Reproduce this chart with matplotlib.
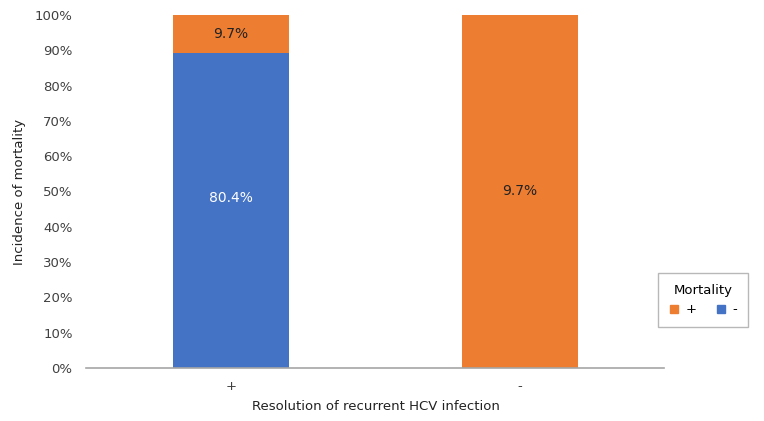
import numpy as np
import matplotlib.pyplot as plt
from matplotlib.lines import Line2D

categories = ['+', '-']
mort_neg = [80.4, 0.0]   # blue, mortality -
mort_pos = [9.7, 9.7]    # orange, mortality +
yticks = [0, 10, 20, 30, 40, 50, 60, 70, 80, 90, 100]

blue = '#4472C4'
orange = '#ED7D31'

# 100% stacked
tot = np.array(mort_neg) + np.array(mort_pos)
neg_pct = np.array(mort_neg) / tot * 100
pos_pct = np.array(mort_pos) / tot * 100

fig = plt.figure(figsize=(7.64, 4.21), dpi=100)
ax = fig.add_axes([0.1132, 0.1259, 0.7565, 0.8385])
x = np.arange(len(categories))

b1 = ax.bar(x, neg_pct, width=0.4, color=blue)
b2 = ax.bar(x, pos_pct, width=0.4, bottom=neg_pct, color=orange)

for i in range(len(categories)):
    if mort_neg[i] > 0:
        ax.text(x[i], neg_pct[i] / 2 + 3.5, f'{mort_neg[i]:.1f}%', ha='center', va='center',
                color='white', fontsize=10)
    ax.text(x[i], neg_pct[i] + pos_pct[i] / 2, f'{mort_pos[i]:.1f}%', ha='center', va='center',
            color='#222222', fontsize=10)

ax.set_xlim(-0.5, 1.5)
ax.set_ylim(0, 100)
ax.set_yticks(yticks)
ax.set_yticklabels([f'{t}%' for t in yticks])
ax.set_xticks(x)
ax.set_xticklabels(categories)
ax.tick_params(axis='both', length=0, labelsize=9.5, colors='#404040')
ax.tick_params(axis='y', pad=10)
ax.tick_params(axis='x', pad=9)
for s in ['top', 'right', 'left']:
    ax.spines[s].set_visible(False)
ax.spines['bottom'].set_color('#A6A6A6')
ax.spines['bottom'].set_linewidth(1.2)

ax.set_xlabel('Resolution of recurrent HCV infection', fontsize=9.5, color='#222222', labelpad=5)
ax.set_ylabel('Incidence of mortality', fontsize=9.5, color='#222222', labelpad=6)

handles = [Line2D([], [], marker='s', linestyle='none', color=orange, markersize=6),
           Line2D([], [], marker='s', linestyle='none', color=blue, markersize=6)]
leg = fig.legend(handles, ['+', '-'], title='Mortality', ncol=2, loc='center',
                 bbox_to_anchor=(0.920, 0.287), fontsize=9.5, title_fontsize=9.5,
                 frameon=True, fancybox=False, edgecolor='#A6A6A6',
                 handlelength=0.8, handletextpad=0.5, columnspacing=1.4, borderpad=0.8)
leg.get_frame().set_linewidth(1.0)

fig.savefig('out.png', dpi=100)
